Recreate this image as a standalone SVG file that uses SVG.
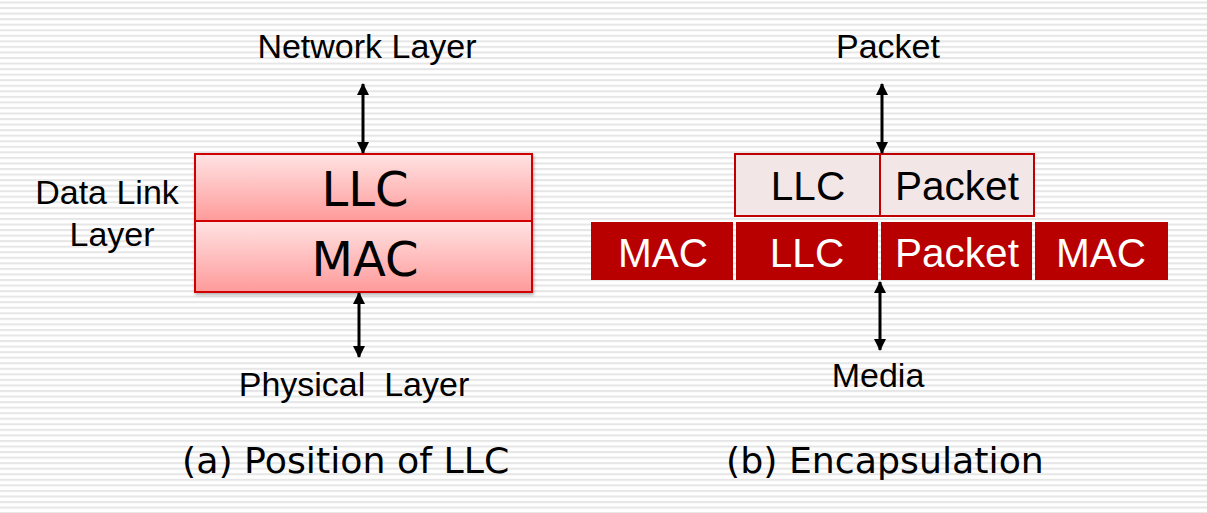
<svg xmlns="http://www.w3.org/2000/svg" width="1207" height="513" viewBox="0 0 1207 513">
<defs>
<pattern id="stripes" patternUnits="userSpaceOnUse" x="0" y="1.5" width="20" height="5.55">
<rect x="0" y="0" width="20" height="5.55" fill="#ffffff"/>
<rect x="0" y="0" width="20" height="2" fill="#e6e6e6"/>
</pattern>
<linearGradient id="pink" x1="0" y1="0" x2="0" y2="1">
<stop offset="0" stop-color="#ffe3e3"/>
<stop offset="1" stop-color="#ff9a9a"/>
</linearGradient>
<filter id="shadow" x="-5%" y="-5%" width="110%" height="115%">
<feDropShadow dx="1" dy="2" stdDeviation="1.5" flood-color="#000" flood-opacity="0.3"/>
</filter>
<marker id="ah" viewBox="0 0 12 12" refX="11" refY="6" markerWidth="12" markerHeight="12" markerUnits="userSpaceOnUse" orient="auto-start-reverse">
<path d="M0,0 L12,6 L0,12 Z" fill="#000"/>
</marker>
</defs>
<style>
.lbl{font-family:"Liberation Sans",Arial,sans-serif;font-size:34px;fill:#000}
.cap{font-family:"DejaVu Sans",Verdana,sans-serif;font-size:36.3px;fill:#000}
.big{font-family:"DejaVu Sans",Verdana,sans-serif;font-size:48px;fill:#000;text-anchor:middle}
.cell{font-family:"Liberation Sans",Arial,sans-serif;font-size:40.5px;text-anchor:middle}
.conn{stroke:#000;stroke-width:3;fill:none;marker-start:url(#ah);marker-end:url(#ah)}
</style>
<rect x="0" y="0" width="1207" height="513" fill="url(#stripes)"/>

<g id="left-stack" filter="url(#shadow)">
<rect x="195" y="154" width="337" height="67" fill="url(#pink)" stroke="#d00000" stroke-width="2"/>
<rect x="195" y="221" width="337" height="71" fill="url(#pink)" stroke="#d00000" stroke-width="2"/>
</g>
<g id="llc-left"><text class="big" x="365" y="206">LLC</text></g>
<g id="mac-left"><text class="big" x="365" y="276">MAC</text></g>

<g id="network-layer"><text class="lbl" x="367" y="58" text-anchor="middle">Network Layer</text></g>
<g id="data-link-layer">
<text class="lbl" x="107" y="204" text-anchor="middle">Data Link</text>
<text class="lbl" x="112" y="246" text-anchor="middle">Layer</text>
</g>
<g id="physical-layer"><text class="lbl" x="354" y="396" text-anchor="middle" xml:space="preserve">Physical  Layer</text></g>
<g id="caption-a"><text class="cap" x="182" y="473">(a) Position of LLC</text></g>

<g id="top-frame">
<rect x="735" y="154" width="299" height="62" fill="#f3e6e6" stroke="#c00000" stroke-width="2"/>
<line x1="880" y1="154" x2="880" y2="216" stroke="#c00000" stroke-width="2"/>
<text class="cell" x="808" y="200" fill="#000">LLC</text>
<text class="cell" x="957" y="200" fill="#000">Packet</text>
</g>
<g id="bottom-frame">
<rect x="591" y="222" width="142" height="58" fill="#b80000"/>
<rect x="736" y="222" width="142" height="58" fill="#b80000"/>
<rect x="881" y="222" width="151" height="58" fill="#b80000"/>
<rect x="1035" y="222" width="133" height="58" fill="#b80000"/>
<text class="cell" x="663" y="267" fill="#fff">MAC</text>
<text class="cell" x="807" y="267" fill="#fff">LLC</text>
<text class="cell" x="957" y="267" fill="#fff">Packet</text>
<text class="cell" x="1101" y="267" fill="#fff">MAC</text>
</g>
<g id="packet-label"><text class="lbl" x="888" y="58" text-anchor="middle">Packet</text></g>
<g id="media-label"><text class="lbl" x="878" y="387" text-anchor="middle">Media</text></g>
<g id="caption-b"><text class="cap" x="726" y="473">(b) Encapsulation</text></g>

<g id="connectors">
<line class="conn" x1="363" y1="84" x2="363" y2="153"/>
<line class="conn" x1="359" y1="293" x2="359" y2="357"/>
<line class="conn" x1="882" y1="84" x2="882" y2="153"/>
<line class="conn" x1="880" y1="282" x2="880" y2="350"/>
</g>
</svg>
